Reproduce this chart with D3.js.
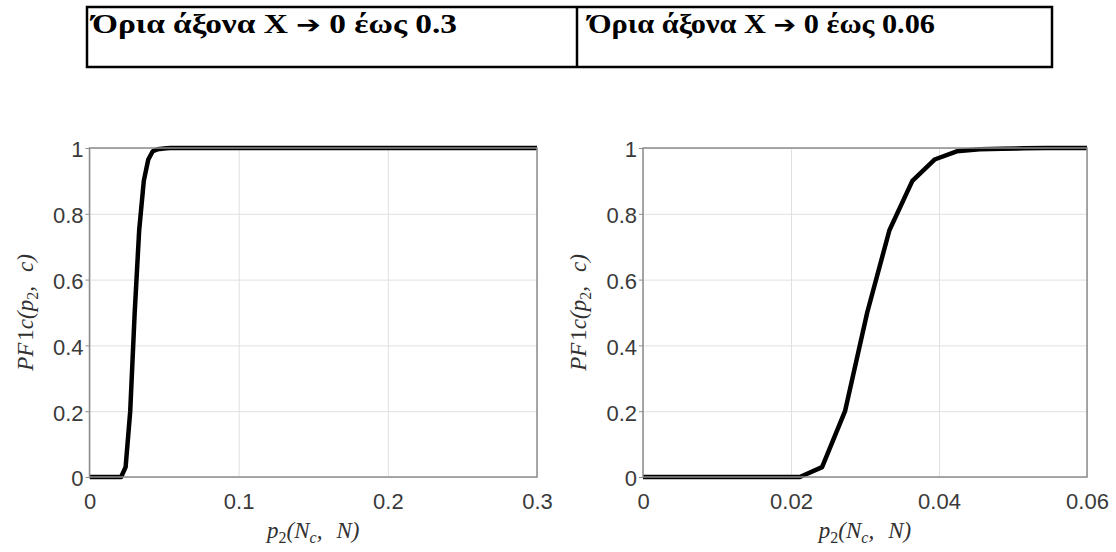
<!DOCTYPE html>
<html><head><meta charset="utf-8">
<script src="https://cdn.jsdelivr.net/npm/d3@7"></script>
<style>
body{margin:0;background:#fff;}
svg{display:block;}
</style></head>
<body>
<svg id="c" width="1116" height="552"></svg>
<script>
// ---- data ----
const headerPrefix = "Όρια άξονα X ";
const headerArrow = "➔";
const headerSuffixes = [" 0 έως 0.3", " 0 έως 0.06"];
const p2Values = [0, 0.003, 0.0061, 0.0091, 0.0121, 0.0152, 0.0182, 0.0212, 0.0242, 0.0273, 0.0303, 0.0333, 0.0364, 0.0394, 0.0424, 0.0455, 0.0485, 0.0515, 0.0545, 0.06, 0.1, 0.2, 0.3];
const pf1cValues = [0, 0, 0, 0, 0, 0, 0, 0, 0.03, 0.2, 0.5, 0.75, 0.9, 0.965, 0.99, 0.996, 0.998, 0.999, 1, 1, 1, 1, 1];
const yTicks = [0, 0.2, 0.4, 0.6, 0.8, 1];
const xTicksLeft = [0, 0.1, 0.2, 0.3];
const xTicksRight = [0, 0.02, 0.04, 0.06];
const xMaxLeft = 0.3, xMaxRight = 0.06;

const data = p2Values.map((x, i) => ({x, y: pf1cValues[i]}));
const svg = d3.select("#c");
const serif = "'Liberation Serif','Times New Roman',serif";
const sans = "'Liberation Sans',Arial,sans-serif";

// ---- header table ----
const tbl = {x0: 87, x1: 1052, xm: 577, y0: 7, y1: 67};
const tg = svg.append("g");
tg.append("rect").attr("x", tbl.x0).attr("y", tbl.y0).attr("width", tbl.x1 - tbl.x0).attr("height", tbl.y1 - tbl.y0)
  .attr("fill", "none").attr("stroke", "#000").attr("stroke-width", 2.5);
tg.append("line").attr("x1", tbl.xm).attr("x2", tbl.xm).attr("y1", tbl.y0).attr("y2", tbl.y1)
  .attr("stroke", "#000").attr("stroke-width", 2.5);
[[92, 365], [588, 347]].forEach(([x, len], i) => {
  const t = tg.append("text").attr("x", x).attr("y", 33)
    .attr("textLength", len).attr("lengthAdjust", "spacingAndGlyphs")
    .attr("font-family", serif).attr("font-weight", "bold")
    .attr("font-size", 27).attr("fill", "#000");
  t.append("tspan").text(headerPrefix);
  t.append("tspan").text(headerArrow).attr("font-family", "'DejaVu Sans',sans-serif").attr("font-size", 24);
  t.append("tspan").text(headerSuffixes[i]);
});

// ---- plots ----
function plot(id, left, right, xMax, xTicks) {
  const top = 148, bottom = 477;
  const x = d3.scaleLinear().domain([0, xMax]).range([left, right]);
  const y = d3.scaleLinear().domain([0, 1]).range([bottom, top]);
  const g = svg.append("g");
  // grid
  g.append("g").attr("transform", `translate(0,${bottom})`)
    .call(d3.axisBottom(x).tickValues(xTicks).tickSize(-(bottom - top)).tickFormat(""))
    .call(a => a.select(".domain").remove())
    .call(a => a.selectAll("line").attr("stroke", "#e0e0e0"));
  g.append("g").attr("transform", `translate(${left},0)`)
    .call(d3.axisLeft(y).tickValues(yTicks).tickSize(-(right - left)).tickFormat(""))
    .call(a => a.select(".domain").remove())
    .call(a => a.selectAll("line").attr("stroke", "#e0e0e0"));
  // clip + line
  g.append("clipPath").attr("id", "clip" + id).append("rect")
    .attr("x", left).attr("y", top - 5).attr("width", right - left).attr("height", bottom - top + 10);
  g.append("path").datum(data)
    .attr("clip-path", `url(#clip${id})`)
    .attr("d", d3.line().x(d => x(d.x)).y(d => y(d.y)))
    .attr("fill", "none").attr("stroke", "#000").attr("stroke-width", 4.5).attr("stroke-linejoin", "round");
  // box
  g.append("rect").attr("x", left).attr("y", top).attr("width", right - left).attr("height", bottom - top)
    .attr("fill", "none").attr("stroke", "#8c8c8c").attr("stroke-width", 1.5);
  // small y ticks
  g.append("g").attr("transform", `translate(${left},0)`)
    .call(d3.axisLeft(y).tickValues(yTicks).tickSize(4).tickFormat(""))
    .call(a => a.select(".domain").remove())
    .call(a => a.selectAll("line").attr("stroke", "#8c8c8c"));
  // tick labels
  const xa = g.append("g").attr("transform", `translate(0,${bottom})`)
    .call(d3.axisBottom(x).tickValues(xTicks).tickSize(0).tickPadding(16).tickFormat(d => String(+d.toFixed(3))));
  xa.select(".domain").remove();
  xa.selectAll("text").attr("font-family", sans).attr("font-size", 22).attr("fill", "#3a3a3a");
  const ya = g.append("g").attr("transform", `translate(${left},0)`)
    .call(d3.axisLeft(y).tickValues(yTicks).tickSize(0).tickPadding(6).tickFormat(d => String(+d.toFixed(1))));
  ya.select(".domain").remove();
  ya.selectAll("text").attr("font-family", sans).attr("font-size", 22).attr("fill", "#3a3a3a").attr("dy", "0.4em");
  // axis labels
  const xl = g.append("text").attr("x", (left + right) / 2).attr("y", 538).attr("text-anchor", "middle")
    .attr("font-family", serif).attr("font-style", "italic").attr("font-size", 23).attr("fill", "#303030");
  xl.append("tspan").text("p");
  xl.append("tspan").text("2").attr("font-style", "normal").attr("font-size", 16).attr("dy", 5);
  xl.append("tspan").text("(N").attr("dy", -5);
  xl.append("tspan").text("c").attr("font-size", 16).attr("dy", 5);
  xl.append("tspan").text(",").attr("dy", -5);
  xl.append("tspan").text("N)").attr("dx", 14);
  const yl = g.append("text").attr("transform", `translate(${left - 57},${(top + bottom) / 2}) rotate(-90)`)
    .attr("text-anchor", "middle")
    .attr("font-family", serif).attr("font-style", "italic").attr("font-size", 23).attr("fill", "#303030");
  yl.append("tspan").text("PF");
  yl.append("tspan").text("1").attr("font-style", "normal").attr("dx", 2);
  yl.append("tspan").text("c(p");
  yl.append("tspan").text("2").attr("font-style", "normal").attr("font-size", 16).attr("dy", 5);
  yl.append("tspan").text(",").attr("dy", -5);
  yl.append("tspan").text("c)").attr("dx", 14);
}
plot("L", 89.5, 537, xMaxLeft, xTicksLeft);
plot("R", 643, 1087, xMaxRight, xTicksRight);
</script>
</body></html>
